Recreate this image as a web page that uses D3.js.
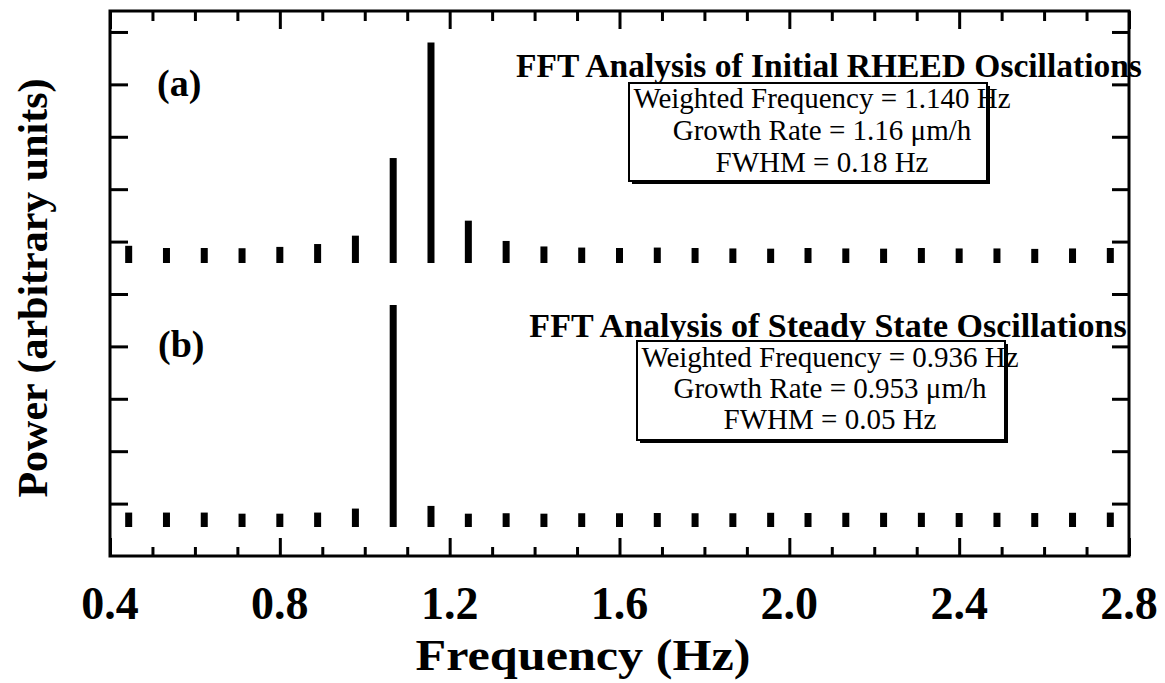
<!DOCTYPE html>
<html>
<head>
<meta charset="utf-8">
<script src="https://cdn.jsdelivr.net/npm/d3@7"></script>
<style>
  body { margin: 0; background: #fff; }
  svg { display: block; font-family: "Liberation Serif", "Times New Roman", serif; }
</style>
</head>
<body>
<svg id="fft"></svg>
<script>
const freqs = [0.444, 0.533, 0.622, 0.711, 0.800, 0.889, 0.978, 1.067, 1.156, 1.244,
  1.333, 1.422, 1.511, 1.600, 1.689, 1.778, 1.867, 1.956, 2.044, 2.133,
  2.222, 2.311, 2.400, 2.489, 2.578, 2.667, 2.756];

// panel (a): initial oscillations, normalised power
const powerA = [0.078, 0.068, 0.068, 0.067, 0.073, 0.086, 0.124, 0.476, 1.0, 0.192,
  0.100, 0.075, 0.070, 0.068, 0.070, 0.068, 0.066, 0.065, 0.068, 0.066,
  0.065, 0.068, 0.066, 0.066, 0.064, 0.066, 0.068];

// panel (b): steady state oscillations
const powerB = [0.065, 0.065, 0.065, 0.060, 0.060, 0.065, 0.083, 1.0, 0.095, 0.060,
  0.062, 0.060, 0.062, 0.062, 0.063, 0.062, 0.062, 0.064, 0.063, 0.064,
  0.064, 0.064, 0.063, 0.064, 0.063, 0.064, 0.065];

const xMajorTicks = [0.4, 0.8, 1.2, 1.6, 2.0, 2.4, 2.8];
const xMinorTicks = [0.5, 0.6, 0.7, 0.9, 1.0, 1.1, 1.3, 1.4, 1.5, 1.7, 1.8, 1.9,
  2.1, 2.2, 2.3, 2.5, 2.6, 2.7];
const yTicks = [1, 2, 3, 4, 5, 6, 7, 8, 9, 10];

const titleA = "FFT Analysis of Initial RHEED Oscillations";
const titleB = "FFT Analysis of Steady State Oscillations";
const infoA = ["Weighted Frequency = 1.140 Hz", "Growth Rate = 1.16 \u03bcm/h", "FWHM = 0.18 Hz"];
const infoB = ["Weighted Frequency = 0.936 Hz", "Growth Rate = 0.953 \u03bcm/h", "FWHM = 0.05 Hz"];

const size = { width: 1165, height: 683 };
const frame = { left: 110, top: 11, right: 1129, bottom: 556 };

const svg = d3.select("#fft").attr("width", size.width).attr("height", size.height);

const x = d3.scaleLinear().domain([0.4, 2.8]).range([frame.left, frame.right]);
const yTick = d3.scaleLinear().domain([0, 10.4]).range([frame.bottom, frame.top]);
const yA = d3.scaleLinear().domain([0, 1]).range([263, 42.5]);
const yB = d3.scaleLinear().domain([0, 1]).range([527, 305]);

// ticks
const tickStyle = (g) => {
  g.select(".domain").remove();
  g.selectAll("text").remove();
  g.selectAll("line").attr("stroke", "#000").attr("stroke-width", 3);
};

svg.append("g")
  .attr("transform", `translate(0,${frame.bottom})`)
  .call(d3.axisBottom(x).tickValues(xMajorTicks).tickSize(-18))
  .call(tickStyle);
svg.append("g")
  .attr("transform", `translate(0,${frame.bottom})`)
  .call(d3.axisBottom(x).tickValues(xMinorTicks).tickSize(-9))
  .call(tickStyle);
svg.append("g")
  .attr("transform", `translate(0,${frame.top})`)
  .call(d3.axisTop(x).tickValues(xMajorTicks).tickSize(-18))
  .call(tickStyle);
svg.append("g")
  .attr("transform", `translate(0,${frame.top})`)
  .call(d3.axisTop(x).tickValues(xMinorTicks).tickSize(-10))
  .call(tickStyle);
svg.append("g")
  .attr("transform", `translate(${frame.left},0)`)
  .call(d3.axisLeft(yTick).tickValues(yTicks).tickSize(-18))
  .call(tickStyle);
svg.append("g")
  .attr("transform", `translate(${frame.right},0)`)
  .call(d3.axisRight(yTick).tickValues(yTicks).tickSize(-17))
  .call(tickStyle);

// frame
svg.append("rect")
  .attr("x", frame.left)
  .attr("y", frame.top)
  .attr("width", frame.right - frame.left)
  .attr("height", frame.bottom - frame.top)
  .attr("fill", "none")
  .attr("stroke", "#000")
  .attr("stroke-width", 3);

// bars
const barW = 7;
[[powerA, yA], [powerB, yB]].forEach(([vals, y]) => {
  svg.append("g")
    .attr("fill", "#000")
    .selectAll("rect")
    .data(vals)
    .join("rect")
    .attr("x", (d, i) => x(freqs[i]) - barW / 2)
    .attr("y", (d) => y(d))
    .attr("width", barW)
    .attr("height", (d) => y(0) - y(d));
});

// x tick labels
svg.append("g")
  .selectAll("text")
  .data(xMajorTicks)
  .join("text")
  .attr("x", (d) => x(d))
  .attr("y", 619)
  .attr("text-anchor", "middle")
  .attr("font-size", 46)
  .attr("font-weight", "bold")
  .text((d) => d.toFixed(1));

svg.append("text")
  .attr("x", 583)
  .attr("y", 670)
  .attr("text-anchor", "middle")
  .attr("font-size", 44)
  .attr("font-weight", "bold")
  .attr("textLength", 335)
  .attr("lengthAdjust", "spacingAndGlyphs")
  .text("Frequency (Hz)");

svg.append("text")
  .attr("transform", "translate(47,288) rotate(-90)")
  .attr("text-anchor", "middle")
  .attr("font-size", 42)
  .attr("font-weight", "bold")
  .text("Power (arbitrary units)");

// panel labels
svg.append("text").attr("x", 157).attr("y", 96)
  .attr("font-size", 38).attr("font-weight", "bold").text("(a)");
svg.append("text").attr("x", 158).attr("y", 357)
  .attr("font-size", 38).attr("font-weight", "bold").text("(b)");

// titles
svg.append("text").attr("x", 829).attr("y", 77)
  .attr("text-anchor", "middle").attr("font-size", 33.5).attr("font-weight", "bold")
  .text(titleA);
svg.append("text").attr("x", 828).attr("y", 337)
  .attr("text-anchor", "middle").attr("font-size", 34).attr("font-weight", "bold")
  .text(titleB);

// info boxes
function infoBox(box, lines, cx, baselines) {
  svg.append("rect")
    .attr("x", box.x0 + 3).attr("y", box.y0 + 3)
    .attr("width", box.x1 - box.x0).attr("height", box.y1 - box.y0)
    .attr("fill", "#000");
  svg.append("rect")
    .attr("x", box.x0).attr("y", box.y0)
    .attr("width", box.x1 - box.x0).attr("height", box.y1 - box.y0)
    .attr("fill", "#fff").attr("stroke", "#000").attr("stroke-width", 2);
  svg.append("g")
    .selectAll("text")
    .data(lines)
    .join("text")
    .attr("x", cx)
    .attr("y", (d, i) => baselines[i])
    .attr("text-anchor", "middle")
    .attr("font-size", 29)
    .text((d) => d);
}

infoBox({ x0: 629, y0: 83, x1: 987, y1: 181 }, infoA, 822, [108, 140, 172]);
infoBox({ x0: 637, y0: 341, x1: 1005, y1: 440 }, infoB, 830, [367, 398, 429]);
</script>
</body>
</html>
